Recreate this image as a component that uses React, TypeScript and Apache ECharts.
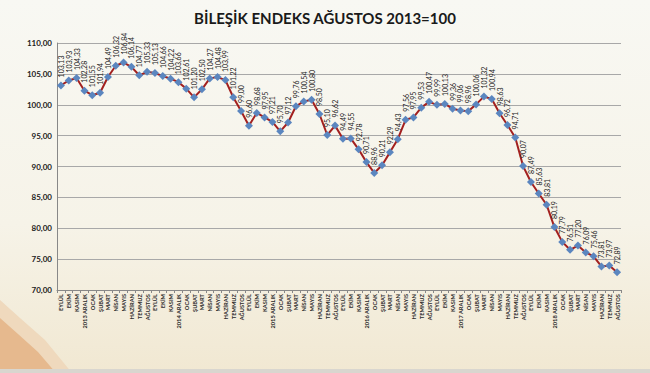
import React, { useEffect, useRef } from "react";
import * as echarts from "echarts";

const monthNames = ["OCAK", "ŞUBAT", "MART", "NİSAN", "MAYIS", "HAZİRAN", "TEMMUZ", "AĞUSTOS", "EYLÜL", "EKİM", "KASIM", "ARALIK"];

const categories: string[] = (() => {
  const out: string[] = [];
  let y = 2013;
  let m = 8; // EYLÜL index
  for (let i = 0; i < 72; i++) {
    const name = m === 11 ? `${y} ARALIK` : monthNames[m];
    out.push(name);
    m++;
    if (m === 12) { m = 0; y++; }
  }
  return out;
})();

const values2013 = [103.13, 103.93, 104.33, 102.28];
const values2014 = [101.55, 101.94, 104.49, 106.32, 106.84, 106.14, 104.77, 105.33, 105.13, 104.66, 104.22, 103.66];
const values2015 = [102.61, 101.20, 102.50, 104.27, 104.48, 103.99, 101.22, 99.00, 96.60, 98.68, 97.95, 97.21];
const values2016 = [95.70, 97.12, 99.76, 100.54, 100.80, 98.50, 95.10, 96.62, 94.49, 94.55, 92.78, 90.71];
const values2017 = [88.96, 90.21, 92.29, 94.43, 97.56, 97.95, 99.53, 100.47, 99.99, 100.13, 99.36, 99.06];
const values2018 = [98.96, 100.06, 101.32, 100.94, 98.63, 96.72, 94.71, 90.07, 87.49, 85.63, 83.81, 80.19];
const values2019 = [77.79, 76.51, 77.20, 76.09, 75.46, 73.81, 73.97, 72.89];

const seriesValues = [...values2013, ...values2014, ...values2015, ...values2016, ...values2017, ...values2018, ...values2019];

const fmt = (v: number) => v.toFixed(2).replace(".", ",");

export default function App() {
  const ref = useRef<HTMLDivElement>(null);
  useEffect(() => {
    if (!ref.current) return;
    const chart = echarts.init(ref.current, null, { renderer: "svg" });
    const font = "Lato, 'Open Sans', sans-serif";
    chart.setOption({
      animation: false,
      backgroundColor: {
        type: "linear", x: 0, y: 0, x2: 0, y2: 1,
        colorStops: [
          { offset: 0, color: "#f8f8f3" },
          { offset: 0.6, color: "#f6f3e8" },
          { offset: 1, color: "#f1e8d2" },
        ],
      },
      textStyle: { fontFamily: font },
      title: {
        text: "BİLEŞİK ENDEKS AĞUSTOS 2013=100",
        left: "center",
        top: 5,
        textStyle: { fontFamily: font, fontSize: 15, fontWeight: "bold", color: "#1a1a1a" },
      },
      graphic: [
        {
          type: "polygon",
          silent: true,
          z: -1,
          shape: { points: [[0, 300], [20, 318], [45, 340], [72, 373], [0, 373]] },
          style: { fill: "#efd9bd" },
        },
        {
          type: "polygon",
          silent: true,
          z: -1,
          shape: { points: [[0, 318], [18, 334], [38, 352], [56, 373], [0, 373]] },
          style: { fill: "#e6b98e" },
        },
        {
          type: "rect",
          silent: true,
          z: -1,
          shape: { x: 0, y: 369, width: 650, height: 4 },
          style: { fill: "#d9d6cf" },
        },
      ],
      grid: { left: 57, right: 29, top: 43, bottom: 83, containLabel: false },
      xAxis: {
        type: "category",
        data: categories,
        boundaryGap: true,
        axisLine: { lineStyle: { color: "#888", width: 1 } },
        axisTick: { show: true, interval: 0, length: 3, lineStyle: { color: "#888" } },
        axisLabel: {
          interval: 0,
          rotate: 90,
          fontSize: 5.7,
          fontWeight: "bold",
          color: "#2a2a2a",
          margin: 4,
          fontFamily: font,
        },
      },
      yAxis: {
        type: "value",
        min: 70,
        max: 110,
        interval: 5,
        axisLine: { show: true, lineStyle: { color: "#888" } },
        axisTick: { show: false },
        splitLine: { lineStyle: { color: "#a8a8a8", width: 1.2 } },
        axisLabel: {
          formatter: (v: number) => fmt(v),
          fontSize: 8,
          fontWeight: "bold",
          color: "#222",
          margin: 5,
          fontFamily: font,
        },
      },
      series: [
        {
          type: "line",
          data: seriesValues,
          symbol: "diamond",
          symbolSize: 8,
          itemStyle: { color: "#5b86bf" },
          lineStyle: { color: "#a3201f", width: 2 },
          label: {
            show: true,
            position: "top",
            rotate: 90,
            align: "left",
            verticalAlign: "middle",
            distance: 4,
            fontSize: 7,
            color: "#222",
            fontFamily: font,
            formatter: (p: any) => fmt(p.value),
          },
          labelLayout: { hideOverlap: false },
        },
      ],
    });
    return () => chart.dispose();
  }, []);
  return <div ref={ref} style={{ position: "fixed", left: 0, top: 0, width: 650, height: 373 }} />;
}
